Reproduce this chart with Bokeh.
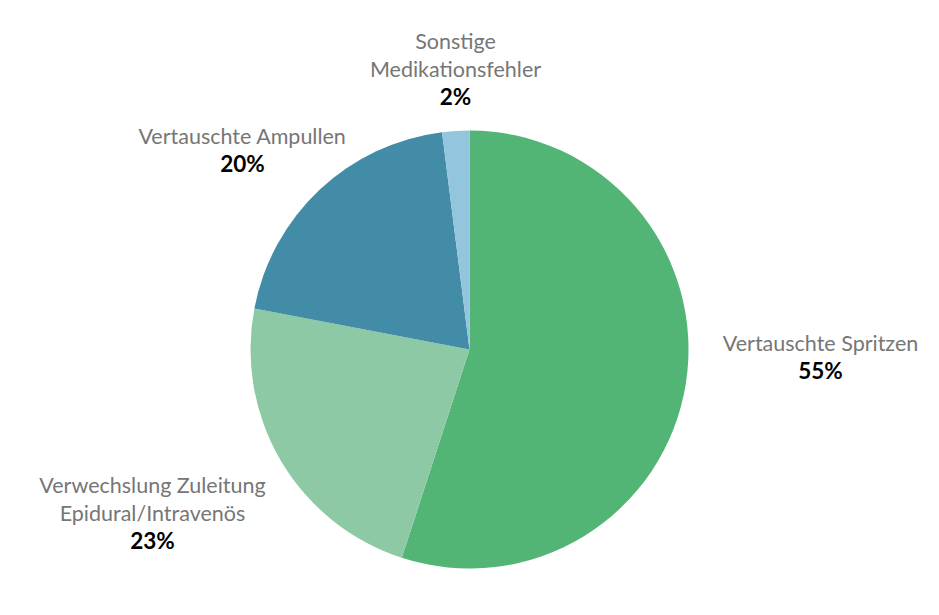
import numpy as np
from bokeh.plotting import figure
from bokeh.models import Range1d, ColumnDataSource
from bokeh.core.properties import value
from bokeh.embed import file_html
from bokeh.resources import INLINE

# ---- data ----
categories = ["Vertauschte Spritzen", "Verwechslung Zuleitung\nEpidural/Intravenös",
              "Vertauschte Ampullen", "Sonstige\nMedikationsfehler"]
shares = [55, 23, 20, 2]
pct_labels = ["55%", "23%", "20%", "2%"]
colors = ["#52b475", "#8dc9a4", "#438ca7", "#93c5dc"]

# ---- layout (page pixel coords; y measured from top) ----
W, H = 923, 599
cx_page, cy_page, radius = 469, 349, 219
# label block: center x, y of first line, line spacing
label_pos = [(820, 342), (152, 484), (242, 135), (455, 40)]
line_gap = 28

def ty(page_y):
    return 615 - page_y

p = figure(width=W, height=H, output_backend="svg", toolbar_location=None,
           x_range=Range1d(0, W), y_range=Range1d(615 - H, 615),
           min_border=0)
p.axis.visible = False
p.grid.visible = False
p.outline_line_color = None
p.background_fill_color = "white"
p.border_fill_color = "white"

fr = np.array(shares, dtype=float) / sum(shares)
cum = np.concatenate([[0], np.cumsum(fr)])
start = np.pi / 2 - 2 * np.pi * cum[:-1]
end = np.pi / 2 - 2 * np.pi * cum[1:]
src = ColumnDataSource(dict(start=start, end=end, color=colors))
p.wedge(x=cx_page, y=ty(cy_page), radius=radius, start_angle="start", end_angle="end",
        direction="clock", fill_color="color", line_color="white", line_width=0,
        source=src)

name_x, name_y, name_t = [], [], []
pct_x, pct_y = [], []
for cat, pct, (lx, ly) in zip(categories, pct_labels, label_pos):
    lines = cat.split("\n")
    for i, ln in enumerate(lines):
        name_x.append(lx)
        name_y.append(ty(ly + i * line_gap))
        name_t.append(ln)
    pct_x.append(lx)
    pct_y.append(ty(ly + len(lines) * line_gap))

p.text(x=name_x, y=name_y, text=name_t, text_font=value("Lato"), text_font_size="21.5px",
       text_color="#767676", text_align="center", text_baseline="middle")
p.text(x=pct_x, y=pct_y, text=pct_labels, text_font=value("Lato"), text_font_size="22.5px",
       text_font_style="bold", text_color="#000000", text_align="center",
       text_baseline="middle")

open("out.html", "w").write(file_html(p, INLINE))
